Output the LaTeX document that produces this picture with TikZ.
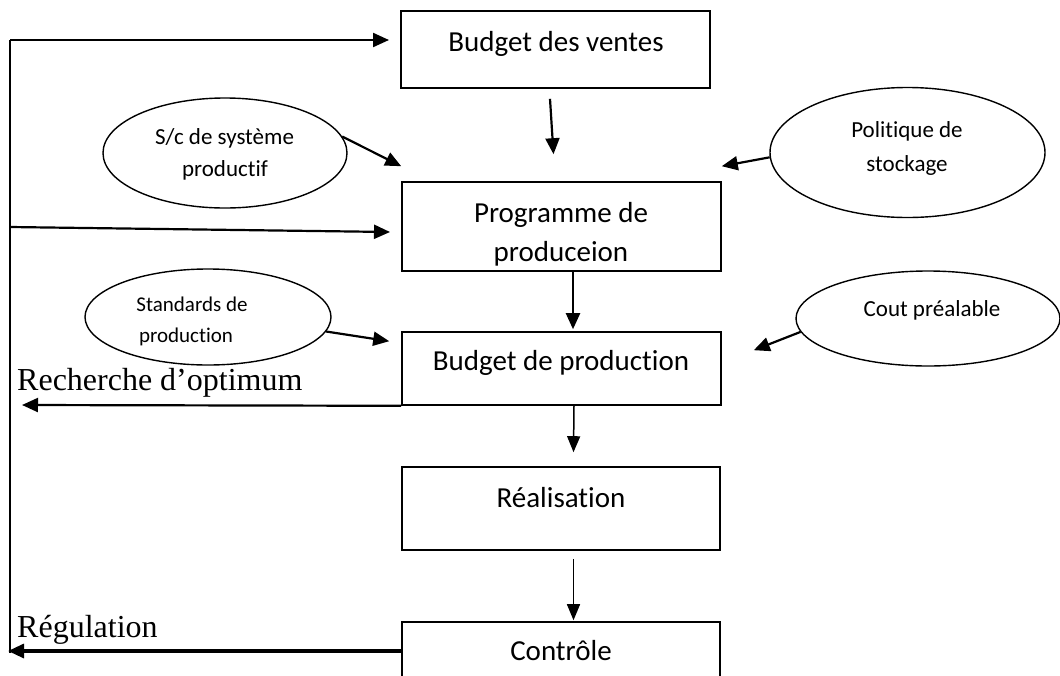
\documentclass[tikz,border=0pt]{standalone}
\usepackage{fontspec}
\setmainfont{Carlito}[Ligatures={NoCommon}]
\newfontfamily\tnr{Liberation Serif}
\usetikzlibrary{arrows.meta,shapes.geometric}
\begin{document}
\begin{tikzpicture}[x=1pt,y=-1pt,
  box/.style={draw, line width=1.6pt, rectangle, inner sep=0pt},
  ell/.style={draw, line width=1.4pt, ellipse, inner sep=0pt},
  arr/.style={line width=2.2pt, -{Triangle[length=16pt,width=14pt]}},
  thinarr/.style={line width=1.5pt, -{Triangle[length=16pt,width=13pt]}},
  bigtxt/.style={font=\fontsize{29}{35}\selectfont, anchor=base, inner sep=0pt},
  smtxt/.style={font=\fontsize{23}{28}\selectfont, anchor=base, inner sep=0pt},
  stdtxt/.style={font=\fontsize{21}{26}\selectfont, anchor=base, inner sep=0pt},
  sertxt/.style={font=\tnr\fontsize{32}{38}\selectfont, anchor=base west, inner sep=0pt},
]
\clip (0,0) rectangle (1060,675);

% boxes
\node[box, minimum width=309pt, minimum height=77pt] (bv) at (555.5,49.5) {};
\node[box, minimum width=319pt, minimum height=89pt] (prog) at (561.5,226.5) {};
\node[box, minimum width=319pt, minimum height=73pt] (bp) at (561.5,368.5) {};
\node[box, minimum width=318pt, minimum height=83pt] (real) at (561,508.5) {};
\node[box, minimum width=318pt, minimum height=58pt] (ctrl) at (561,651) {};

\node[bigtxt] (bvt) at (556,51) {Budget des ventes};
\node[bigtxt] (progt1) at (561,222) {Programme de};
\node[bigtxt] (progt2) at (561,261) {produceion};
\node[bigtxt] (bpt) at (561,370) {Budget de production};
\node[bigtxt] (realt) at (561,507) {Réalisation};
\node[bigtxt] (ctrlt) at (561,660) {Contrôle};

% ellipses
\node[ell, minimum width=244pt, minimum height=110pt] (sc) at (225,153) {};
\node[ell, minimum width=275pt, minimum height=130pt] (pol) at (907.5,152.5) {};
\node[ell, minimum width=246pt, minimum height=96pt] (std) at (208,317) {};
\node[ell, minimum width=264pt, minimum height=95pt] (cout) at (928,318.5) {};

\node[smtxt] (sct1) at (224.5,144) {S/c de système};
\node[smtxt] (sct2) at (225,176) {productif};
\node[smtxt] (polt1) at (907,137) {Politique de};
\node[smtxt] (polt2) at (907,171) {stockage};
\node[stdtxt] (stdt1) at (192,311) {Standards de};
\node[stdtxt] (stdt2) at (186,342) {production};
\node[smtxt] (coutt) at (932,316) {Cout préalable};

% serif labels
\node[sertxt] (rech) at (17,390) {Recherche d’optimum};
\node[sertxt] (regul) at (17,637) {Régulation};

% left feedback line
\coordinate (ltop) at (10,40);
\coordinate (lmid) at (10,227);
\coordinate (lbot) at (10,653);
\coordinate (a1) at (389,40);
\coordinate (a2) at (390,232);
\coordinate (rtip) at (22,405);
\coordinate (gtip) at (8,651);

\draw[line width=2pt] (ltop) -- (lbot);
\draw[arr] (ltop) -- (a1);
\draw[arr] (lmid) -- (a2);

% vertical flow
\draw[arr] ([xshift=-5.5pt,yshift=-10pt]bv.south) -- ([xshift=-8pt,yshift=27pt]prog.north);
\draw[arr] ([xshift=11.5pt]prog.south) -- ([xshift=11.5pt,yshift=2pt]bp.north);
\draw[thinarr] ([xshift=12.5pt]bp.south) -- ([xshift=12.5pt,yshift=14pt]real.north);
\draw[thinarr] ([xshift=12.5pt,yshift=-8pt]real.south) -- ([xshift=12.5pt,yshift=1pt]ctrl.north);

% ellipse inputs
\draw[arr] (sc.8.5) -- ([yshift=15pt]prog.north west);
\draw[arr] (pol.182) -- ([yshift=15pt]prog.north east);
\draw[arr] (std.-7) -- ([xshift=-12pt,yshift=-10pt]bp.north west);
\draw[arr] (cout.186) -- ([xshift=32pt,yshift=-19pt]bp.north east);

% feedback outputs
\draw[arr] (bp.south west) -- (rtip);
\draw[line width=3.2pt, -{Triangle[length=16pt,width=14pt]}] (ctrl.west) -- (gtip);
\end{tikzpicture}
\end{document}
